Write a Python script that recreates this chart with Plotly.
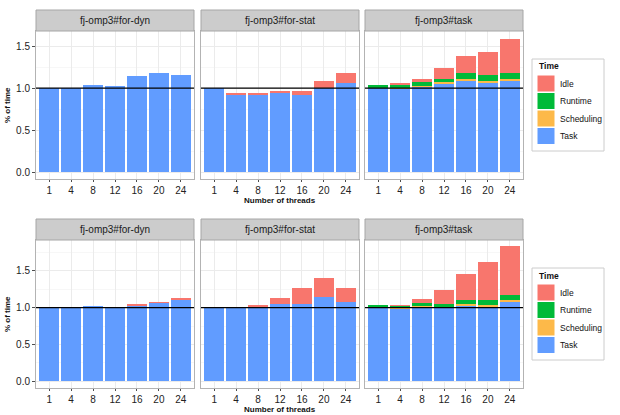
import plotly.graph_objects as go

W, H = 620, 415
threads = ["1", "4", "8", "12", "16", "20", "24"]
variants = ["fj-omp3#for-dyn", "fj-omp3#for-stat", "fj-omp3#task"]
segments = ["Task", "Scheduling", "Runtime", "Idle"]
colors = {"Idle": "#F8766D", "Runtime": "#00BA38", "Scheduling": "#FDB949", "Task": "#619CFF"}

# ---- Top row (segment heights) ----
top_dyn_task = [1.0, 1.0, 1.043, 1.024, 1.142, 1.181, 1.161]
top_dyn_sched = [0, 0, 0, 0, 0, 0, 0]
top_dyn_runtime = [0, 0, 0, 0, 0, 0, 0]
top_dyn_idle = [0, 0, 0, 0, 0, 0, 0]

top_stat_task = [1.0, 0.921, 0.925, 0.937, 0.917, 1.0, 1.063]
top_stat_sched = [0, 0, 0, 0, 0, 0, 0]
top_stat_runtime = [0, 0, 0, 0, 0, 0, 0]
top_stat_idle = [0, 0.016, 0.02, 0.028, 0.044, 0.083, 0.122]

top_task_task = [1.0, 0.995, 1.02, 1.06, 1.094, 1.067, 1.087]
top_task_sched = [0.0, 0.005, 0.01, 0.012, 0.016, 0.02, 0.019]
top_task_runtime = [0.035, 0.04, 0.04, 0.038, 0.07, 0.07, 0.071]
top_task_idle = [0.0, 0.01, 0.036, 0.126, 0.202, 0.276, 0.413]

# ---- Bottom row (segment heights) ----
bot_dyn_task = [1.0, 1.0, 1.027, 1.014, 1.027, 1.068, 1.105]
bot_dyn_sched = [0, 0, 0, 0, 0, 0, 0]
bot_dyn_runtime = [0, 0, 0, 0, 0, 0, 0]
bot_dyn_idle = [0, 0, 0, 0, 0.013, 0.009, 0.022]

bot_stat_task = [1.0, 1.0, 1.0, 1.045, 1.055, 1.15, 1.073]
bot_stat_sched = [0, 0, 0, 0, 0, 0, 0]
bot_stat_runtime = [0, 0, 0, 0, 0, 0, 0]
bot_stat_idle = [0, 0.004, 0.036, 0.091, 0.209, 0.26, 0.2]

bot_task_task = [1.0, 0.99, 1.01, 1.0, 1.027, 1.01, 1.073]
bot_task_sched = [0.0, 0.005, 0.008, 0.01, 0.018, 0.02, 0.032]
bot_task_runtime = [0.04, 0.028, 0.05, 0.045, 0.06, 0.075, 0.068]
bot_task_idle = [0.0, 0.007, 0.046, 0.181, 0.35, 0.513, 0.663]

y_ticks = [0.0, 0.5, 1.0, 1.5]
y_tick_labels = ["0.0", "0.5", "1.0", "1.5"]

panels = [
    [
        [top_dyn_task, top_dyn_sched, top_dyn_runtime, top_dyn_idle],
        [top_stat_task, top_stat_sched, top_stat_runtime, top_stat_idle],
        [top_task_task, top_task_sched, top_task_runtime, top_task_idle],
    ],
    [
        [bot_dyn_task, bot_dyn_sched, bot_dyn_runtime, bot_dyn_idle],
        [bot_stat_task, bot_stat_sched, bot_stat_runtime, bot_stat_idle],
        [bot_task_task, bot_task_sched, bot_task_runtime, bot_task_idle],
    ],
]

# layout geometry in pixels
col_x = [(36, 194), (201, 359), (365, 523)]
row_y = [(31, 179), (240, 388)]  # panel top, bottom
strip_h = 21
y_ranges = [[-0.08, 1.68], [-0.092, 1.92]]

FONT = "Liberation Sans, Arial, sans-serif"
fig = go.Figure()
layout = dict(
    width=W, height=H, margin=dict(l=0, r=0, t=0, b=0),
    paper_bgcolor="white", plot_bgcolor="white",
    barmode="stack", bargap=0.1, showlegend=False,
    font=dict(family=FONT, size=10, color="#333333"),
)
shapes = []
annotations = []

idx = 0
for r in range(2):
    for c in range(3):
        idx += 1
        xa = "x" if idx == 1 else f"x{idx}"
        ya = "y" if idx == 1 else f"y{idx}"
        for s, seg in enumerate(segments):
            fig.add_trace(go.Bar(
                x=threads, y=panels[r][c][s], name=seg,
                marker=dict(color=colors[seg], line=dict(width=0)),
                xaxis=xa, yaxis=ya, showlegend=False,
            ))
        x0, x1 = col_x[c]
        t, b = row_y[r]
        xd = [x0 / W, x1 / W]
        yd = [(H - b) / H, (H - t) / H]
        layout["xaxis" if idx == 1 else f"xaxis{idx}"] = dict(
            domain=xd, anchor=ya, type="category",
            categoryorder="array", categoryarray=threads,
            range=[-0.6, 6.6], showgrid=True, gridcolor="#ebebeb", gridwidth=1,
            showline=True, mirror=True, linecolor="#b3b3b3", linewidth=1,
            ticks="outside", ticklen=2, tickcolor="#4d4d4d",
            tickfont=dict(size=10, color="#222222"), zeroline=False,
        )
        layout["yaxis" if idx == 1 else f"yaxis{idx}"] = dict(
            domain=yd, anchor=xa, range=y_ranges[r],
            tickvals=y_ticks, ticktext=y_tick_labels,
            showticklabels=(c == 0), ticks="outside" if c == 0 else "",
            ticklen=3, tickcolor="#4d4d4d",
            tickfont=dict(size=10, color="#222222"),
            showgrid=True, gridcolor="#ebebeb", gridwidth=1,
            minor=dict(dtick=0.25, tick0=0, showgrid=True, gridcolor="#f7f7f7", ticks=""),
            showline=True, mirror=True, linecolor="#b3b3b3", linewidth=1,
            zeroline=False,
        )
        # reference line at 1.0
        shapes.append(dict(type="line", xref=f"{xa} domain", yref=ya,
                           x0=0, x1=1, y0=1, y1=1,
                           line=dict(color="black", width=1.2), layer="above"))
        # strip
        shapes.append(dict(type="rect", xref="paper", yref="paper",
                           x0=x0 / W, x1=x1 / W, y0=(H - t) / H, y1=(H - t + strip_h) / H,
                           fillcolor="#cccccc", line=dict(color="#a6a6a6", width=1)))
        annotations.append(dict(xref="paper", yref="paper",
                                x=(x0 + x1) / 2 / W, y=(H - t + strip_h / 2) / H,
                                text=variants[c], showarrow=False,
                                font=dict(size=10, color="#1a1a1a"),
                                xanchor="center", yanchor="middle"))
    # axis titles
    t, b = row_y[r]
    annotations.append(dict(xref="paper", yref="paper", x=280 / W, y=(H - b - 21.5) / H,
                            text="<b>Number of threads</b>", showarrow=False,
                            font=dict(size=8, color="#111111"),
                            xanchor="center", yanchor="middle"))
    annotations.append(dict(xref="paper", yref="paper", x=7 / W, y=(H - (t + b) / 2) / H,
                            text="<b>% of time</b>", showarrow=False, textangle=-90,
                            font=dict(size=8, color="#111111"),
                            xanchor="center", yanchor="middle"))
    # legend (drawn)
    lc = (t + b) / 2
    ltop = lc - 46
    shapes.append(dict(type="rect", xref="paper", yref="paper",
                       x0=532 / W, x1=604 / W, y0=(H - ltop) / H, y1=(H - ltop - 92) / H,
                       fillcolor="white", line=dict(color="#cccccc", width=1)))
    annotations.append(dict(xref="paper", yref="paper", x=537 / W, y=(H - ltop - 7.5) / H,
                            text="<b>Time</b>", showarrow=False,
                            font=dict(size=8.5, color="#111111"),
                            xanchor="left", yanchor="middle"))
    for k, seg in enumerate(["Idle", "Runtime", "Scheduling", "Task"]):
        ky0 = ltop + 16 + k * 17.5
        shapes.append(dict(type="rect", xref="paper", yref="paper",
                           x0=537 / W, x1=555 / W, y0=(H - ky0) / H, y1=(H - ky0 - 17) / H,
                           fillcolor=colors[seg], line=dict(color="white", width=1)))
        annotations.append(dict(xref="paper", yref="paper", x=558 / W, y=(H - ky0 - 8.5) / H,
                                text=seg, showarrow=False,
                                font=dict(size=8.5, color="#111111"),
                                xanchor="left", yanchor="middle"))

layout["shapes"] = shapes
layout["annotations"] = annotations
fig.update_layout(**layout)
fig.write_html("out.html")
